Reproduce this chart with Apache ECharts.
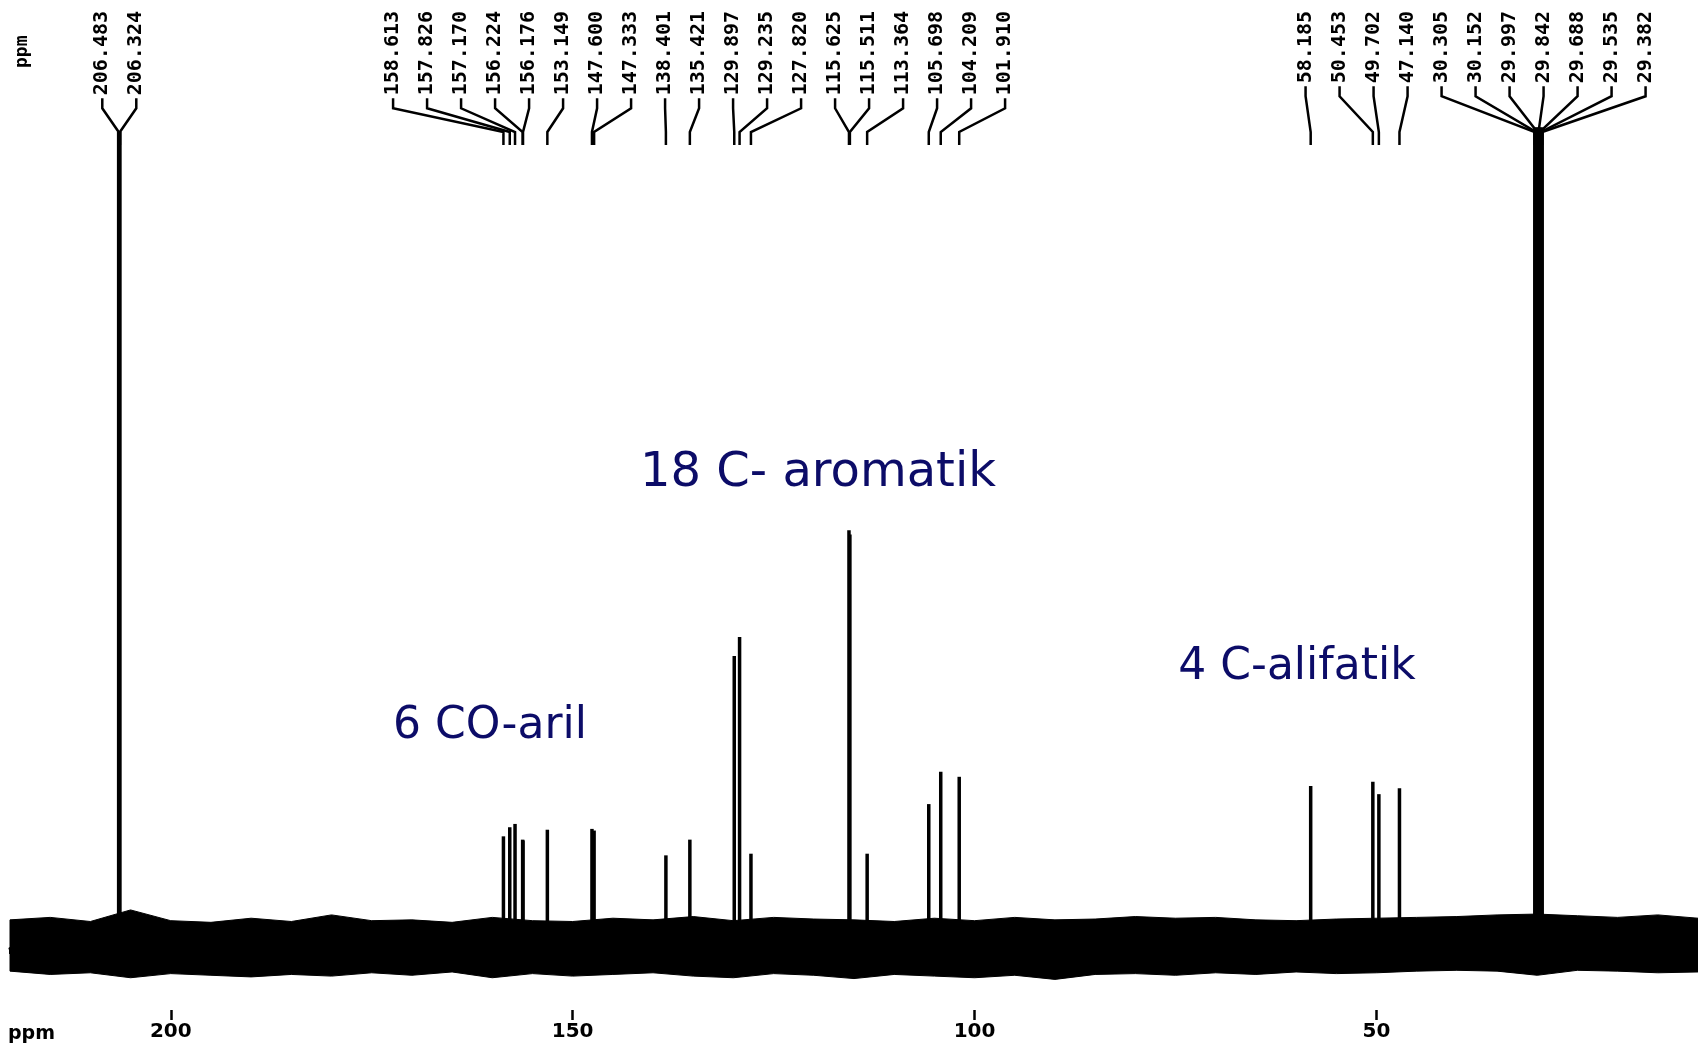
<!DOCTYPE html>
<html>
<head>
<meta charset="utf-8">
<script src="https://cdn.jsdelivr.net/npm/echarts@6/dist/echarts.min.js"></script>
<style>
  html, body { margin: 0; padding: 0; background: #fff; }
  #spectrum { width: 1698px; height: 1046px; }
</style>
</head>
<body>
<div id="spectrum"></div>
<script>
// 13C NMR peaks (ppm) and their heights (arbitrary intensity, baseline = 0)
const peakPpm = [206.483, 206.324, 158.613, 157.826, 157.170, 156.224, 156.176, 153.149,
  147.600, 147.333, 138.401, 135.421, 129.897, 129.235, 127.820, 115.625, 115.511,
  113.364, 105.698, 104.209, 101.910, 58.185, 50.453, 49.702, 47.140,
  30.305, 30.152, 29.997, 29.842, 29.688, 29.535, 29.382];
const peakHeight = [98.7, 98.7, 13.5, 14.6, 15.0, 13.1, 13.0, 14.3,
  14.4, 14.2, 11.2, 13.1, 35.3, 37.6, 11.4, 50.5, 50.0,
  11.4, 17.4, 21.3, 20.7, 19.6, 20.1, 18.6, 19.3,
  99.2, 99.2, 99.2, 99.2, 99.2, 99.2, 99.2];

// baseline noise envelope, read every 5 ppm
const noisePpm = [220, 215, 210, 205, 200, 195, 190, 185, 180, 175, 170, 165, 160, 155, 150,
  145, 140, 135, 130, 125, 120, 115, 110, 105, 100, 95, 90, 85, 80, 75, 70, 65, 60, 55, 50,
  45, 40, 35, 30, 25, 20, 15, 10];
const noiseTop = [3.4, 3.7, 3.2, 4.6, 3.3, 3.1, 3.6, 3.2, 4.0, 3.3, 3.4, 3.1, 3.7, 3.3, 3.2,
  3.6, 3.4, 3.8, 3.3, 3.7, 3.5, 3.4, 3.2, 3.6, 3.3, 3.7, 3.4, 3.5, 3.8, 3.6, 3.7, 3.4, 3.3, 3.5, 3.6,
  3.7, 3.8, 4.0, 4.1, 3.9, 3.7, 4.0, 3.6];
const noiseBottom = [-2.8, -3.2, -3.0, -3.6, -3.1, -3.3, -3.5, -3.2, -3.4, -3.0, -3.3, -2.9, -3.6, -3.1, -3.4,
  -3.2, -3.0, -3.4, -3.6, -3.1, -3.3, -3.7, -3.2, -3.4, -3.6, -3.3, -3.8, -3.2, -3.1, -3.3, -3.0, -3.2, -2.9, -3.1, -3.0,
  -2.8, -2.7, -2.8, -3.3, -2.7, -2.8, -3.0, -2.9];

const axisLabels = [200, 150, 100, 50];
const groupNotes = [
  { text: '6 CO-aril', x: 490, y: 727, size: 44 },
  { text: '18 C- aromatik', x: 818, y: 474, size: 48 },
  { text: '4 C-alifatik', x: 1297, y: 668, size: 44 }
];

const W = 1698, gridLeft = 10, gridRight = 0;
const xMin = 10, xMax = 220;
const navy = '#0c0c68';
const labelFont = 20;

// spread the peak labels so they don't overlap (Bruker-style)
function spreadLabels(ppms, gap) {
  const pxPer = (W - gridLeft - gridRight) / (xMax - xMin);
  const desired = ppms.map(p => gridLeft + (xMax - p) * pxPer);
  let groups = desired.map((d, i) => ({ idx: [i], center: d }));
  let changed = true;
  while (changed) {
    changed = false;
    for (let i = 0; i < groups.length - 1; i++) {
      const a = groups[i], b = groups[i + 1];
      const aEnd = a.center + (a.idx.length - 1) / 2 * gap;
      const bStart = b.center - (b.idx.length - 1) / 2 * gap;
      if (bStart - aEnd < gap) {
        const idx = a.idx.concat(b.idx);
        const center = idx.reduce((s, k) => s + desired[k], 0) / idx.length;
        groups.splice(i, 2, { idx, center });
        changed = true;
        break;
      }
    }
  }
  const out = [];
  groups.forEach(g => {
    g.idx.forEach((k, j) => {
      const px = g.center + (j - (g.idx.length - 1) / 2) * gap;
      out[k] = xMax - (px - gridLeft) / pxPer;
    });
  });
  return out;
}

const labelPpm = spreadLabels(peakPpm, 34);

const peakData = peakPpm.map((p, i) => [p, peakHeight[i]]);
const labelData = peakPpm.map((p, i) => [p, labelPpm[i]]);

const chart = echarts.init(document.getElementById('spectrum'));

chart.setOption({
  animation: false,
  backgroundColor: '#fff',
  grid: { left: gridLeft, right: gridRight, top: 121, bottom: 36 },
  xAxis: [{
    type: 'value',
    inverse: true,
    min: xMin,
    max: xMax,
    interval: 10,
    axisLine: { lineStyle: { color: '#000', width: 3 } },
    axisTick: { length: 6, lineStyle: { color: '#000', width: 2 } },
    axisLabel: {
      customValues: axisLabels,
      margin: 12,
      color: '#000',
      fontFamily: 'DejaVu Sans',
      fontWeight: 'bold',
      fontSize: 20
    },
    splitLine: { show: false }
  }, {
    type: 'value',
    inverse: true,
    min: xMin,
    max: xMax,
    position: 'bottom',
    offset: 0,
    axisLine: { show: false },
    axisTick: { customValues: axisLabels, length: 10, lineStyle: { color: '#000', width: 2.5 } },
    axisLabel: { show: false },
    splitLine: { show: false }
  }],
  yAxis: { type: 'value', min: -7.5, max: 100, show: false },
  series: [
    {
      // baseline noise band
      type: 'custom',
      silent: true,
      clip: false,
      data: [[xMax, 0]],
      renderItem: function (params, api) {
        const pts = [];
        noisePpm.forEach((p, i) => pts.push(api.coord([p, noiseTop[i]])));
        for (let i = noisePpm.length - 1; i >= 0; i--) pts.push(api.coord([noisePpm[i], noiseBottom[i]]));
        return { type: 'polygon', shape: { points: pts }, style: { fill: '#000', stroke: '#000', lineWidth: 1 } };
      }
    },
    {
      // peaks
      type: 'custom',
      silent: true,
      clip: false,
      data: peakData,
      renderItem: function (params, api) {
        const p0 = api.coord([api.value(0), 0]);
        const p1 = api.coord([api.value(0), api.value(1)]);
        return {
          type: 'line',
          shape: { x1: p0[0], y1: p0[1], x2: p1[0], y2: p1[1] },
          style: { stroke: '#000', lineWidth: 3.5 }
        };
      }
    },
    {
      // peak labels with connectors
      type: 'custom',
      silent: true,
      clip: false,
      data: labelData,
      renderItem: function (params, api) {
        const px = api.coord([api.value(0), 0])[0];
        const lx = api.coord([api.value(1), 0])[0];
        const txt = api.value(0).toFixed(3);
        const start = 11 + txt.length * labelFont * 0.602 + 3;
        return {
          type: 'group',
          children: [{
            type: 'polyline',
            shape: { points: [[lx, start], [lx, start + 10], [px, 132], [px, 145]] },
            style: { stroke: '#000', lineWidth: 2.5, fill: null }
          }, {
            type: 'text',
            x: lx,
            y: 11,
            rotation: Math.PI / 2,
            style: {
              text: txt,
              fill: '#000',
              fontFamily: 'DejaVu Sans Mono',
              fontWeight: 'bold',
              fontSize: labelFont,
              align: 'right',
              verticalAlign: 'middle'
            }
          }]
        };
      }
    }
  ],
  graphic: [
    {
      type: 'text', x: 22, y: 68, rotation: Math.PI / 2,
      style: { text: 'ppm', fill: '#000', fontFamily: 'DejaVu Sans Mono', fontWeight: 'bold', fontSize: 18,
        align: 'left', verticalAlign: 'middle', textAlign: 'left', textVerticalAlign: 'middle' }
    },
    {
      type: 'text', x: 8, y: 1034,
      style: { text: 'ppm', fill: '#000', fontFamily: 'DejaVu Sans', fontWeight: 'bold', fontSize: 19,
        align: 'left', verticalAlign: 'middle', textAlign: 'left', textVerticalAlign: 'middle' }
    }
  ].concat(groupNotes.map(n => ({
    type: 'text', x: n.x, y: n.y,
    style: { text: n.text, fill: navy, fontFamily: 'DejaVu Sans', fontSize: n.size,
      align: 'center', verticalAlign: 'middle', textAlign: 'center', textVerticalAlign: 'middle' }
  })))
});
</script>
</body>
</html>
